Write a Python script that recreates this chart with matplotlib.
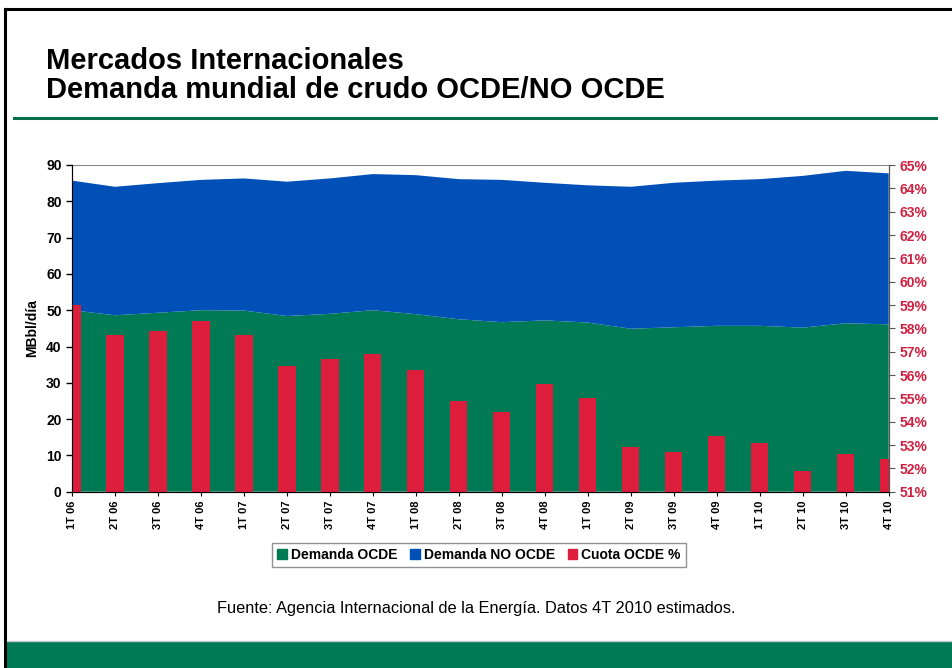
import matplotlib
matplotlib.use("Agg")
import matplotlib.pyplot as plt
from matplotlib.patches import Patch, Rectangle
from matplotlib.lines import Line2D

plt.rcParams["font.family"] = ["Liberation Sans", "DejaVu Sans"]

# quarters 1T 06 .. 4T 10
QUARTERS = ["1T 06", "2T 06", "3T 06", "4T 06", "1T 07", "2T 07", "3T 07", "4T 07",
            "1T 08", "2T 08", "3T 08", "4T 08", "1T 09", "2T 09", "3T 09", "4T 09",
            "1T 10", "2T 10", "3T 10", "4T 10"]
# OCDE demand (MBbl/dia)
OCDE = [50.0, 48.6, 49.3, 50.0, 49.9, 48.4, 49.0, 50.0, 48.9, 47.5,
        46.7, 47.2, 46.6, 44.9, 45.3, 45.7, 45.7, 45.2, 46.4, 46.1]
# world demand (top of stacked area)
TOTAL = [85.7, 84.0, 85.0, 85.9, 86.3, 85.4, 86.3, 87.5, 87.2, 86.1,
         85.9, 85.1, 84.4, 84.0, 85.1, 85.7, 86.1, 87.0, 88.4, 87.7]
# OCDE share (%)
SHARE = [59.0, 57.7, 57.9, 58.3, 57.7, 56.4, 56.7, 56.9, 56.2, 54.9,
         54.4, 55.6, 55.0, 52.9, 52.7, 53.4, 53.1, 51.9, 52.6, 52.4]
NO_OCDE = [t - o for t, o in zip(TOTAL, OCDE)]

GREEN = "#007A55"
BLUE = "#0050B8"
RED = "#DC1E3C"
RED_TXT = "#D02040"

fig = plt.figure(figsize=(9.52, 6.68), dpi=100)
W, H = 952, 668

def fx(px): return px / W
def fy(py): return 1 - py / H

# slide frame
fig.add_artist(Line2D([fx(5), fx(5)], [0, fy(9)], color="black", lw=2.2))
fig.add_artist(Line2D([fx(5), 1], [fy(9), fy(9)], color="black", lw=2.2))
# green footer band
fig.add_artist(Rectangle((fx(7), 0), 1 - fx(7), fy(642), color=GREEN, lw=0))
fig.add_artist(Line2D([fx(7), 1], [fy(641), fy(641)], color="#c8c8c8", lw=1))

# title + rule
fig.text(fx(46), fy(69), "Mercados Internacionales", fontsize=21, fontweight="bold",
         ha="left", va="baseline")
fig.text(fx(46), fy(98), "Demanda mundial de crudo OCDE/NO OCDE", fontsize=21,
         fontweight="bold", ha="left", va="baseline")
fig.add_artist(Line2D([fx(14), fx(936)], [fy(118), fy(118)], color="#00704A", lw=2.2))

ax = fig.add_axes([fx(72), fy(491.7), fx(888.7) - fx(72), fy(165) - fy(491.7)])
x = list(range(len(QUARTERS)))
ax.stackplot(x, OCDE, NO_OCDE, colors=[GREEN, BLUE], lw=0)
ax.set_xlim(0, len(QUARTERS) - 1)
ax.set_ylim(0, 90)
ax.set_yticks(range(0, 91, 10))
ax.set_xticks(x)
ax.set_xticklabels(QUARTERS, rotation=90, fontsize=8, fontweight="bold")
ax.tick_params(axis="y", labelsize=10, length=4, direction="out", width=1)
ax.tick_params(axis="x", length=3, direction="out", width=0.8)
for lab in ax.get_yticklabels():
    lab.set_fontweight("bold")
ax.set_ylabel("MBbl/día", fontsize=10, fontweight="bold", labelpad=5)
ax.spines["top"].set_linestyle((0, (2, 1)))
ax.spines["top"].set_color("#888888")
for s in ("left", "bottom", "right"):
    ax.spines[s].set_color("#555555")

ax2 = ax.twinx()
ax2.bar(x, SHARE, width=0.4, color=RED, bottom=0)
ax2.set_ylim(51, 65)
ax2.set_yticks(range(51, 66))
ax2.set_yticklabels([f"{v}%" for v in range(51, 66)], color=RED_TXT, fontsize=10,
                    fontweight="bold")
ax2.tick_params(axis="y", length=4, direction="out", color="#555555")
ax2.spines["top"].set_visible(False)
ax2.spines["right"].set_color("#555555")

handles = [Patch(color=GREEN, label="Demanda OCDE"),
           Patch(color=BLUE, label="Demanda NO OCDE"),
           Patch(color=RED, label="Cuota OCDE %")]
leg = fig.legend(handles=handles, loc="center", bbox_to_anchor=(fx(479), fy(555)), ncol=3,
                 prop={"weight": "bold", "size": 10}, handlelength=0.7, handleheight=0.7,
                 handletextpad=0.3, columnspacing=0.9, frameon=True, fancybox=False,
                 edgecolor="#777777", borderpad=0.35)
leg.get_frame().set_linewidth(1)

fig.text(fx(476), fy(608), "Fuente: Agencia Internacional de la Energía. Datos 4T 2010 estimados.",
         fontsize=11.8, ha="center", va="center")

fig.savefig("out.png", dpi=100)
